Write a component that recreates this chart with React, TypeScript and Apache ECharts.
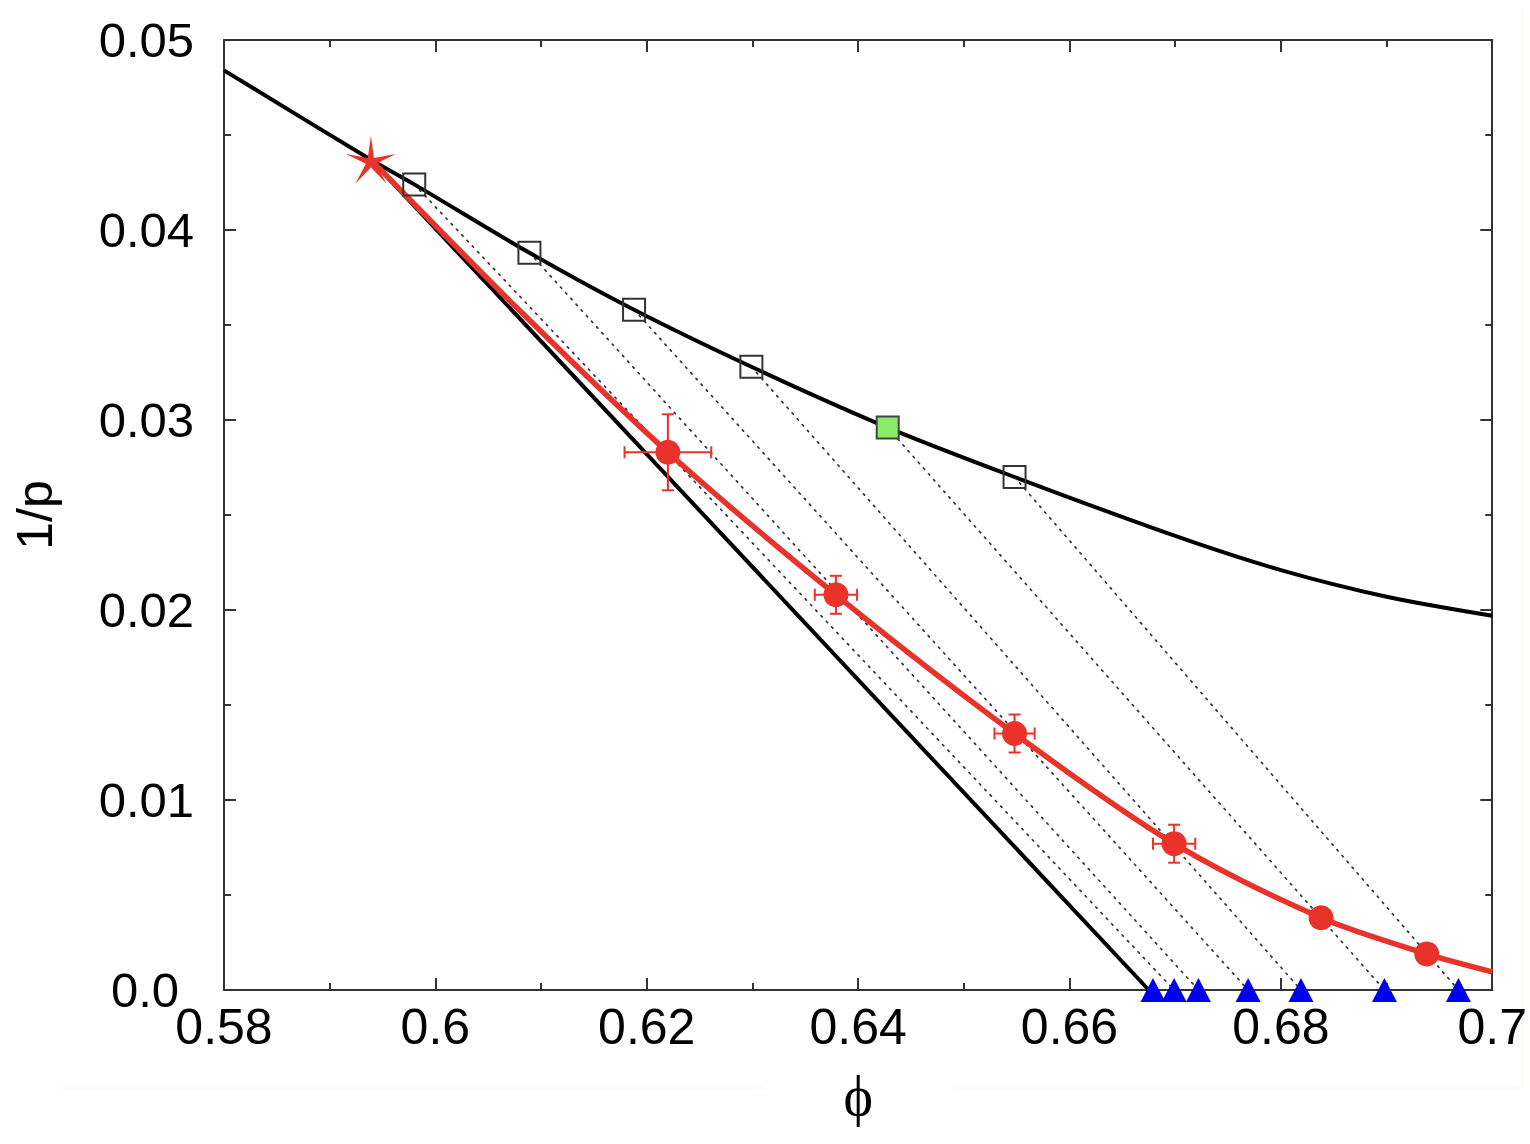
import React, { useEffect, useRef } from "react";
import * as echarts from "echarts";

// ---- data ----
const xTicks = [0.58, 0.6, 0.62, 0.64, 0.66, 0.68, 0.7];
const yTicks = [0.0, 0.01, 0.02, 0.03, 0.04, 0.05];

const starPoint: [number, number] = [0.5939, 0.0437];

// upper black curve (smooth)
const upperCurve: [number, number][] = [
  [0.58, 0.0484], [0.5939, 0.0437], [0.598, 0.0424], [0.6089, 0.0388],
  [0.6188, 0.0358], [0.6299, 0.0328], [0.6428, 0.0296], [0.6548, 0.027],
  [0.67, 0.0239], [0.68, 0.0221], [0.69, 0.0207], [0.7, 0.0197],
];

// open squares on the upper curve
const openSquares: [number, number][] = [
  [0.598, 0.0424], [0.6089, 0.0388], [0.6188, 0.0358], [0.6299, 0.0328], [0.6548, 0.027],
];
const greenSquare: [number, number][] = [[0.6428, 0.0296]];

// tie-line top ends (in order) and blue triangles on phi axis
const tieTops: [number, number][] = [
  [0.598, 0.0424], [0.6089, 0.0388], [0.6188, 0.0358], [0.6299, 0.0328], [0.6428, 0.0296], [0.6548, 0.027],
];
const triangles: number[] = [0.6679, 0.6699, 0.6722, 0.6769, 0.6819, 0.6898, 0.6968];

// straight black line from the star to the phi axis
const blackLine: [number, number][] = [[0.5939, 0.0437], [0.6675, 0.0]];

// red curve (smooth) and red points with error bars
const redCurve: [number, number][] = [
  [0.5939, 0.0437], [0.6079, 0.0358], [0.622, 0.0283], [0.6379, 0.0208], [0.6548, 0.0135],
  [0.6699, 0.0077], [0.6838, 0.0038], [0.6938, 0.0019], [0.7, 0.00095],
];
const redPoints: [number, number][] = [
  [0.622, 0.0283], [0.6379, 0.0208], [0.6548, 0.0135], [0.6699, 0.0077], [0.6838, 0.0038], [0.6938, 0.0019],
];
const redXErr: number[] = [0.0041, 0.002, 0.0019, 0.002, 0, 0];
const redYErr: number[] = [0.002, 0.001, 0.001, 0.001, 0, 0];

const RED = "#e8322a";
const BLUE = "#0000f0";
const GREEN = "#88ec66";
const FRAME = "#333333";

function starPath(): string {
  const pts: string[] = [];
  for (let i = 0; i < 10; i++) {
    const a = (-90 + i * 36) * Math.PI / 180;
    const r = i % 2 === 0 ? 50 : 10;
    const x = 50 + r * Math.cos(a);
    const y = 50 + r * Math.sin(a);
    pts.push((i === 0 ? "M" : "L") + x.toFixed(2) + " " + y.toFixed(2));
  }
  return "path://" + pts.join(" ") + " Z";
}

function fmtX(v: number): string {
  return String(Number(v.toFixed(2)));
}

export default function App() {
  const ref = useRef<HTMLDivElement>(null);
  useEffect(() => {
    document.body.style.margin = "0";
    if (!ref.current) return;
    const chart = echarts.init(ref.current, undefined, { renderer: "svg" });

    const labelFont = "'Liberation Sans', Arial, Helvetica, sans-serif";

    const baseX = {
      type: "value",
      min: xTicks[0],
      max: xTicks[xTicks.length - 1],
      interval: 0.02,
      splitLine: { show: false },
      axisLine: { show: true, onZero: false, lineStyle: { color: FRAME, width: 2 } },
      axisTick: { show: true, inside: true, length: 12, lineStyle: { color: FRAME, width: 2 } },
      minorTick: { show: true, splitNumber: 2, length: 7, lineStyle: { color: FRAME, width: 2 } },
    };
    const baseY = {
      type: "value",
      min: yTicks[0],
      max: yTicks[yTicks.length - 1],
      interval: 0.01,
      splitLine: { show: false },
      axisLine: { show: true, onZero: false, lineStyle: { color: FRAME, width: 2 } },
      axisTick: { show: true, inside: true, length: 12, lineStyle: { color: FRAME, width: 2 } },
      minorTick: { show: true, splitNumber: 2, length: 7, lineStyle: { color: FRAME, width: 2 } },
    };

    const tieSeries = tieTops.map((p, i) => ({
      type: "line",
      data: [p, [triangles[i + 1], 0]],
      symbol: "none",
      z: 1,
      lineStyle: { color: "#333", width: 1.7, type: [1.7, 6], cap: "round" },
      silent: true,
    }));

    const errData = redPoints.map((p, i) => [p[0], p[1], redXErr[i], redYErr[i]]);

    const option: any = {
      animation: false,
      backgroundColor: "#ffffff",
      grid: { left: 224, right: 37, top: 40, bottom: 154, containLabel: false },
      xAxis: [
        {
          ...baseX,
          position: "bottom",
          name: "\u03d5",
          nameLocation: "middle",
          nameGap: 78,
          nameTextStyle: {
            fontFamily: "'Liberation Serif', 'DejaVu Serif', serif",
            fontSize: 56,
            color: "#000",
          },
          axisLabel: {
            show: true,
            margin: 12,
            fontSize: 50,
            color: "#000",
            fontFamily: labelFont,
            formatter: (v: number) => fmtX(v),
          },
        },
        { ...baseX, position: "top", axisLabel: { show: false } },
      ],
      yAxis: [
        {
          ...baseY,
          position: "left",
          name: "1/p",
          nameLocation: "middle",
          nameRotate: 90,
          nameGap: 164,
          nameTextStyle: { fontFamily: labelFont, fontSize: 50, color: "#000" },
          axisLabel: {
            show: true,
            margin: 30,
            fontSize: 49,
            color: "#000",
            fontFamily: labelFont,
            formatter: (v: number) => (v === 0 ? "{z|0.0}" : v.toFixed(2)),
            rich: {
              z: { fontSize: 49, fontFamily: labelFont, color: "#000", padding: [0, 15, 0, 0] },
            },
          },
        },
        { ...baseY, position: "right", axisLabel: { show: false } },
      ],
      graphic: [
        { type: "line", shape: { x1: 60, y1: 1088, x2: 765, y2: 1088 }, style: { stroke: "#eafbe4", lineWidth: 1 }, silent: true },
        { type: "line", shape: { x1: 950, y1: 1088, x2: 1522, y2: 1088 }, style: { stroke: "#eafbe4", lineWidth: 1 }, silent: true },
        { type: "line", shape: { x1: 1522, y1: 8, x2: 1522, y2: 1088 }, style: { stroke: "#eafbe4", lineWidth: 1 }, silent: true },
      ],
      series: [
        ...tieSeries,
        {
          type: "line",
          data: blackLine,
          symbol: "none",
          z: 2,
          lineStyle: { color: "#000", width: 4 },
        },
        {
          type: "line",
          data: upperCurve,
          symbol: "none",
          smooth: 0.3,
          z: 2,
          lineStyle: { color: "#000", width: 4 },
        },
        {
          type: "line",
          data: redCurve,
          symbol: "none",
          smooth: 0.3,
          z: 3,
          lineStyle: { color: RED, width: 5.5 },
        },
        {
          type: "custom",
          z: 4,
          data: errData,
          renderItem: (params: any, api: any) => {
            const x = api.value(0), y = api.value(1), ex = api.value(2), ey = api.value(3);
            const children: any[] = [];
            const st = { stroke: RED, lineWidth: 2 };
            const cap = 6;
            if (ex > 0) {
              const a = api.coord([x - ex, y]);
              const b = api.coord([x + ex, y]);
              children.push({ type: "line", shape: { x1: a[0], y1: a[1], x2: b[0], y2: b[1] }, style: st });
              children.push({ type: "line", shape: { x1: a[0], y1: a[1] - cap, x2: a[0], y2: a[1] + cap }, style: st });
              children.push({ type: "line", shape: { x1: b[0], y1: b[1] - cap, x2: b[0], y2: b[1] + cap }, style: st });
            }
            if (ey > 0) {
              const a = api.coord([x, y - ey]);
              const b = api.coord([x, y + ey]);
              children.push({ type: "line", shape: { x1: a[0], y1: a[1], x2: b[0], y2: b[1] }, style: st });
              children.push({ type: "line", shape: { x1: a[0] - cap, y1: a[1], x2: a[0] + cap, y2: a[1] }, style: st });
              children.push({ type: "line", shape: { x1: b[0] - cap, y1: b[1], x2: b[0] + cap, y2: b[1] }, style: st });
            }
            return { type: "group", children };
          },
        },
        {
          type: "scatter",
          data: redPoints,
          symbol: "circle",
          symbolSize: 25,
          z: 5,
          clip: false,
          itemStyle: { color: RED, opacity: 1 },
        },
        {
          type: "scatter",
          data: openSquares,
          symbol: "rect",
          symbolSize: 22,
          z: 5,
          clip: false,
          itemStyle: { color: "rgba(0,0,0,0)", borderColor: "#333", borderWidth: 2, opacity: 1 },
        },
        {
          type: "scatter",
          data: greenSquare,
          symbol: "rect",
          symbolSize: 22,
          z: 5,
          clip: false,
          itemStyle: { color: GREEN, borderColor: "#444", borderWidth: 2, opacity: 1 },
        },
        {
          type: "scatter",
          data: triangles.map((t) => [t, 0]),
          symbol: "triangle",
          symbolSize: [25, 24],
          z: 6,
          clip: false,
          itemStyle: { color: BLUE, opacity: 1 },
        },
        {
          type: "scatter",
          data: [starPoint],
          symbol: starPath(),
          symbolKeepAspect: true,
          symbolSize: 50,
          z: 6,
          clip: false,
          itemStyle: { color: RED, opacity: 1 },
        },
      ],
    };

    chart.setOption(option);
    return () => {
      chart.dispose();
    };
  }, []);

  return <div ref={ref} style={{ width: 1530, height: 1144 }} />;
}
